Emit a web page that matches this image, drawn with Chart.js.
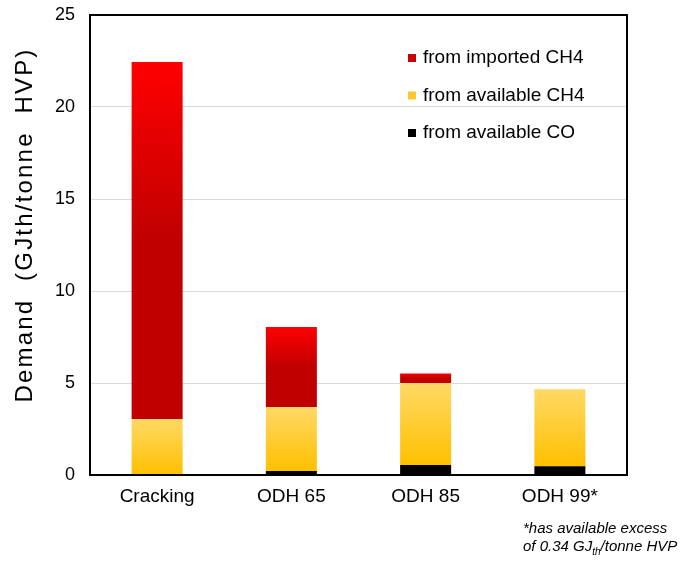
<!DOCTYPE html>
<html>
<head>
<meta charset="utf-8">
<script src="https://cdn.jsdelivr.net/npm/chart.js@4.4.0/dist/chart.umd.min.js"></script>
<style>
  html, body { margin: 0; padding: 0; background: #fff; }
  #wrap { width: 688px; height: 562px; }
</style>
</head>
<body>
<div id="wrap"><canvas id="chart" width="688" height="562"></canvas></div>
<script>
const categories = ['Cracking', 'ODH 65', 'ODH 85', 'ODH 99*'];
const fromAvailableCO = [0, 0.22, 0.55, 0.48];
const fromAvailableCH4 = [3.05, 3.48, 4.45, 4.18];
const fromImportedCH4 = [19.4, 4.35, 0.52, 0];
const yTicks = [0, 5, 10, 15, 20, 25];

const FONT = "'Liberation Sans', Arial, sans-serif";

// vertical gradient spanning one stacked segment
function segmentGradient(context, stops) {
  const chart = context.chart;
  const area = chart.chartArea;
  if (!area || context.type !== 'data') return stops[stops.length - 1][1];
  const i = context.dataIndex;
  const d = context.datasetIndex;
  let start = 0;
  for (let k = 0; k < d; k++) start += chart.data.datasets[k].data[i];
  const end = start + chart.data.datasets[d].data[i];
  const y = chart.scales.y;
  const top = y.getPixelForValue(end);
  const bottom = y.getPixelForValue(start);
  if (!(bottom - top > 0)) return stops[stops.length - 1][1];
  const g = chart.ctx.createLinearGradient(0, top, 0, bottom);
  stops.forEach(s => g.addColorStop(s[0], s[1]));
  return g;
}

const redStops = [[0, '#ff0000'], [0.5, '#c00000'], [1, '#c00000']];
const yellowStops = [[0, '#ffd966'], [1, '#ffc000']];

const boxAndText = {
  id: 'boxAndText',
  afterDraw(chart) {
    const ctx = chart.ctx;
    const a = chart.chartArea;
    ctx.save();
    ctx.strokeStyle = '#000';
    ctx.lineWidth = 2;
    ctx.strokeRect(a.left, a.top, a.right - a.left, a.bottom - a.top);

    // legend, top item = top of stack
    const items = chart.data.datasets.slice().reverse();
    ctx.font = '19px ' + FONT;
    ctx.textBaseline = 'middle';
    ctx.textAlign = 'left';
    items.forEach((ds, n) => {
      const cy = a.top + 43 + n * 37.5;
      ctx.fillStyle = ds.legendColor;
      ctx.fillRect(a.left + 318, cy - 4, 8, 8);
      ctx.fillStyle = '#000';
      ctx.fillText(ds.label, a.left + 333, cy);
    });

    // axis title
    ctx.save();
    ctx.translate(25, 225);
    ctx.rotate(-Math.PI / 2);
    ctx.textAlign = 'center';
    ctx.font = '24px ' + FONT;
    ctx.letterSpacing = '2.2px';
    ctx.fillText('Demand  (GJth/tonne  HVP)', 0, 0);
    ctx.restore();

    // footnote
    ctx.textBaseline = 'alphabetic';
    ctx.font = 'italic 15px ' + FONT;
    let x = 523;
    ctx.fillText('*has available excess', x, 533);
    const parts = [['of 0.34 GJ', 15, 0], ['th', 10, 4], ['/tonne HVP', 15, 0]];
    parts.forEach(p => {
      ctx.font = 'italic ' + p[1] + 'px ' + FONT;
      ctx.fillText(p[0], x, 551 + p[2]);
      x += ctx.measureText(p[0]).width;
    });
    ctx.restore();
  }
};

new Chart(document.getElementById('chart'), {
  type: 'bar',
  data: {
    labels: categories,
    datasets: [
      {
        label: 'from available CO',
        data: fromAvailableCO,
        backgroundColor: '#000000',
        legendColor: '#000000'
      },
      {
        label: 'from available CH4',
        data: fromAvailableCH4,
        backgroundColor: ctx => segmentGradient(ctx, yellowStops),
        legendColor: '#ffc72c'
      },
      {
        label: 'from imported CH4',
        data: fromImportedCH4,
        backgroundColor: ctx => segmentGradient(ctx, redStops),
        legendColor: '#c80000'
      }
    ]
  },
  options: {
    responsive: false,
    animation: false,
    layout: { padding: { left: 0, right: 61, top: 15, bottom: 0 } },
    datasets: {
      bar: { categoryPercentage: 1, barPercentage: 0.38, borderWidth: 0 }
    },
    scales: {
      x: {
        stacked: true,
        grid: { display: false, drawTicks: false },
        border: { color: '#000', width: 2 },
        ticks: { color: '#000', font: { family: FONT, size: 19 }, padding: 10 },
        afterFit: s => { s.height = 87; s.paddingLeft = 0; s.paddingRight = 0; }
      },
      y: {
        stacked: true,
        min: 0,
        max: 25,
        afterBuildTicks: s => { s.ticks = yTicks.map(v => ({ value: v })); },
        grid: { color: '#d9d9d9', lineWidth: 1, drawTicks: false },
        border: { color: '#000', width: 2 },
        ticks: { color: '#000', font: { family: FONT, size: 18 }, padding: 15 },
        afterFit: s => { s.width = 90; s.paddingTop = 0; s.paddingBottom = 0; }
      }
    },
    plugins: {
      legend: { display: false },
      tooltip: { enabled: false }
    }
  },
  plugins: [boxAndText]
});
</script>
</body>
</html>
